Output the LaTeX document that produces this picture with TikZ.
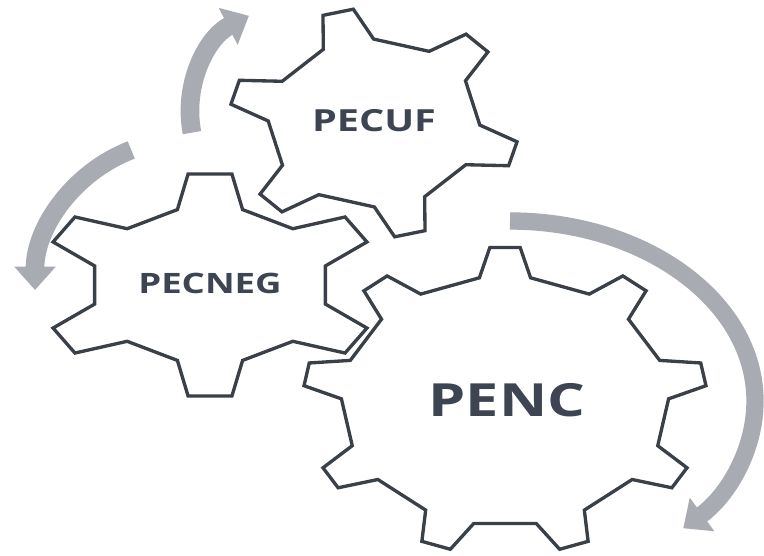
\documentclass[tikz,border=0pt]{standalone}
\usepackage{fontspec}
\setmainfont{Open Sans}
\usetikzlibrary{arrows.meta}

\definecolor{gearcol}{HTML}{3A4048}
\definecolor{labelcol}{HTML}{3D4552}
\definecolor{arrowcol}{HTML}{A9ABB3}

% gear outline: cx, cy, rx, ry, teeth, first angle, tip half angle, root half angle, root ratio
\newcommand{\drawgear}[9]{%
  \draw[gearline, shift={(#1,#2)}]
    (#6+#8:{#9*#3} and {#9*#4})
    \foreach \k [evaluate=\k as \a using #6+\k*360/#5] in {1,...,#5} {
      -- (\a-#8:{#9*#3} and {#9*#4})
      -- (\a-#7:#3 and #4)
      -- (\a+#7:#3 and #4)
      -- (\a+#8:{#9*#3} and {#9*#4})
    } -- cycle;
}

\begin{document}
\begin{tikzpicture}[x=0.3mm, y=0.3mm,
    gearline/.style={draw=gearcol, line width=1mm, line join=miter, fill=white},
    graybend/.style={draw=arrowcol, line width=5.6mm, -{Triangle[length=7mm, width=12mm]}},
    gearlabel/.style={text=labelcol, inner sep=0pt}]
    \useasboundingbox[fill=white] (0,-555) rectangle (764,0);

    % fleches de rotation
    \draw[graybend] (298,-112) ++(191:108) arc[start angle=191, end angle=117, radius=108];
    \draw[graybend] (185,-290) ++(111:150) arc[start angle=111, end angle=180, radius=150];
    \draw[graybend, line width=5.2mm] (510,-401) ++(90:245 and 180)
        arc[start angle=90, end angle=-45, x radius=245, y radius=180];

    % engrenages
    \drawgear{374}{-123}{145}{115}{6}{104.4}{6.2}{14.2}{0.73}
    \drawgear{210}{-285}{170}{112}{6}{90}{7.4}{15.9}{0.70}
    \drawgear{505}{-401}{202}{154}{9}{90}{4.3}{9}{0.81}

    % noms
    \node[gearlabel, font=\fontsize{26}{26}\selectfont\bfseries] (pecuf) at (374,-121) {\scalebox{1.3}[1]{PECUF}};
    \node[gearlabel, font=\fontsize{24}{24}\selectfont\bfseries] (pecneg) at (210,-283) {\scalebox{1.3}[1]{PECNEG}};
    \node[gearlabel, font=\fontsize{39}{39}\selectfont\bfseries] (penc) at (507,-400) {\scalebox{1.3}[1]{PENC}};
\end{tikzpicture}
\end{document}
